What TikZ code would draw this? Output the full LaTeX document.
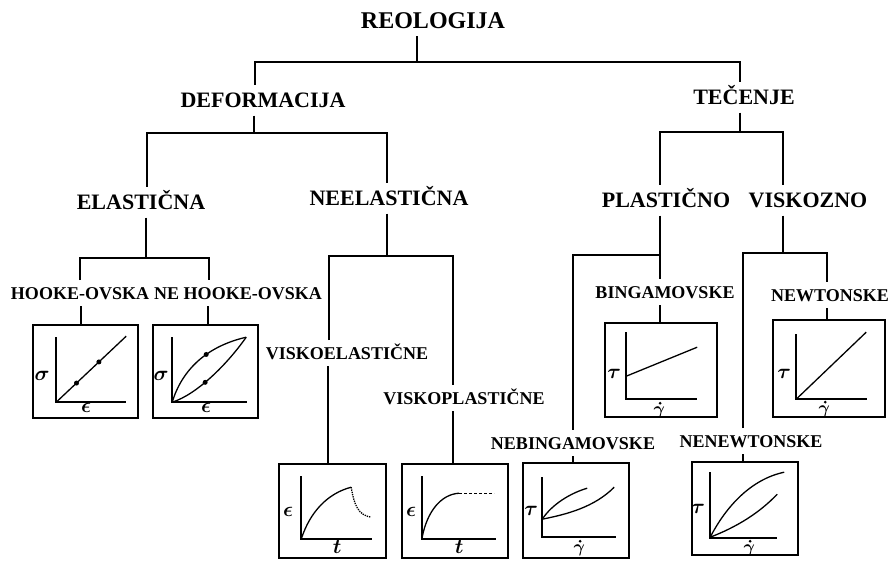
\documentclass[tikz,border=0pt]{standalone}
\usepackage{fontspec}
\setmainfont{Liberation Serif}
\tikzset{
  ln/.style={line width=1.6pt},
  ttl/.style={font=\fontsize{24}{24}\selectfont\bfseries,text height=16pt,text depth=0pt,inner sep=0pt,outer sep=8pt},
  lvl/.style={font=\fontsize{22}{22}\selectfont\bfseries,text height=15pt,text depth=0pt,inner sep=0pt,outer sep=8pt},
  sub/.style={font=\fontsize{18}{18}\selectfont\bfseries,text height=12pt,text depth=0pt,inner sep=0pt,outer sep=7pt},
  pbox/.style={draw,line width=1.6pt,minimum width=106pt,minimum height=94pt,inner sep=0pt},
  ax/.style={line width=1.5pt},
  crv/.style={line width=1.3pt},
  dot/.style={circle,fill,inner sep=0pt,minimum size=5pt},
  lab/.style={font=\fontsize{21}{21}\selectfont\boldmath,inner sep=0pt},
  dlab/.style={font=\fontsize{17}{17}\selectfont\boldmath,inner sep=0pt,anchor=north}
}
\begin{document}
\begin{tikzpicture}[x=1pt,y=-1pt]
\useasboundingbox (0,0) rectangle (892,563);
% labels
\node[ttl] (reo) at (433,20) {REOLOGIJA};
\node[lvl] (def) at (263,100) {DEFORMACIJA};
\node[lvl] (tec) at (744,97) {TEČENJE};
\node[lvl] (ela) at (141,202) {ELASTIČNA};
\node[lvl] (nee) at (389,198) {NEELASTIČNA};
\node[lvl] (pla) at (666,200) {PLASTIČNO};
\node[lvl] (vis) at (808,200) {VISKOZNO};
\node[sub] (hoo) at (80,293) {HOOKE-OVSKA};
\node[sub] (nho) at (238,293) {NE HOOKE-OVSKA};
\node[sub] (vel) at (347,353) {VISKOELASTIČNE};
\node[sub] (vpl) at (464,398) {VISKOPLASTIČNE};
\node[sub] (bin) at (665,292) {BINGAMOVSKE};
\node[sub] (nbi) at (573,443) {NEBINGAMOVSKE};
\node[sub] (new) at (830,295) {NEWTONSKE};
\node[sub] (nne) at (751,441) {NENEWTONSKE};
% graph frames
\node[pbox,minimum width=105pt,minimum height=93pt] (g1) at (85.5,371.5) {};
\node[pbox,minimum width=105pt,minimum height=93pt] (g2) at (205.5,371.5) {};
\node[pbox,minimum width=107pt] (g3) at (332.5,511) {};
\node[pbox] (g4) at (455,511) {};
\node[pbox,minimum height=95pt] (g5) at (576,510.5) {};
\node[pbox,minimum height=93pt] (g6) at (745,508.5) {};
\node[pbox,minimum width=112pt] (g7) at (661,370) {};
\node[pbox,minimum width=112pt,minimum height=97pt] (g8) at (829,368.5) {};
% tree
\coordinate (k0) at (417,62);
\draw[ln] (reo.south -| k0) -- (k0);
\draw[ln] (def.north -| 255,0) |- (k0) -| (tec.north -| 740,0);
\coordinate (k1) at (254,133);
\draw[ln] (def.south -| k1) -- (k1);
\draw[ln] (ela.north -| 147,0) |- (k1) -| (nee.north -| 387,0);
\coordinate (k2) at (740,132);
\draw[ln] (tec.south -| k2) -- (k2);
\draw[ln] (pla.north -| 660,0) |- (k2) -| (vis.north -| 783,0);
\coordinate (k3) at (146,258);
\draw[ln] (ela.south -| k3) -- (k3);
\draw[ln] (hoo.north -| 80,0) |- (k3) -| (nho.north -| 209,0);
\draw[ln] (hoo.south -| 81,0) -- (g1.north -| 81,0);
\draw[ln] (nho.south -| 208,0) -- (g2.north -| 208,0);
\coordinate (k4) at (387,256);
\draw[ln] (nee.south -| k4) -- (k4);
\draw[ln] (vel.north -| 329,0) |- (k4) -| (vpl.north -| 453,0);
\draw[ln] (vel.south -| 328,0) -- (g3.north -| 328,0);
\draw[ln] (vpl.south -| 453,0) -- (g4.north -| 453,0);
\coordinate (k5) at (660,255);
\draw[ln] (pla.south -| k5) -- (bin.north -| k5);
\draw[ln] (k5) -| (nbi.north -| 573,0);
\draw[ln] (bin.south -| 660,0) -- (g7.north -| 660,0);
\draw[ln] (nbi.south -| 573,0) -- (g5.north -| 573,0);
\coordinate (k6) at (783,253);
\draw[ln] (vis.south -| k6) -- (k6);
\draw[ln] (nne.north -| 743,0) |- (k6) -| (new.north -| 827,0);
\draw[ln] (new.south -| 827,0) -- (g8.north -| 827,0);
\draw[ln] (nne.south -| 743,0) -- (g6.north -| 743,0);
% graphs
\begin{scope}[shift={(g1.north west)}]
 \draw[ax] (24,13) |- (94,78);
 \draw[crv] (24,78) -- (94,12) node[dot,pos=.29]{} node[dot,pos=.61]{};
 \node[lab] at (10,52) {$\sigma$};
 \node[lab,anchor=north] at (54,79) {$\epsilon$};
\end{scope}
\begin{scope}[shift={(g2.north west)}]
 \draw[ax] (20,13) |- (95,78);
 \draw[crv] (20,78) .. controls (30,45) and (55,22) .. (94,13) node[dot,pos=.6]{};
 \draw[crv] (20,78) .. controls (45,70) and (75,40) .. (94,13) node[dot,pos=.42]{};
 \node[lab] at (9,52) {$\sigma$};
 \node[lab,anchor=north] at (54,79) {$\epsilon$};
\end{scope}
\begin{scope}[shift={(g3.north west)}]
 \draw[ax] (23,13) |- (94,76);
 \draw[crv] (23,76) .. controls (32,48) and (50,30) .. (73,24);
 \draw[crv,densely dotted] (73,24) .. controls (76,42) and (80,52) .. (93,54);
 \node[lab] at (10,49) {$\epsilon$};
 \node[lab,anchor=north] at (59,77) {$t$};
\end{scope}
\begin{scope}[shift={(g4.north west)}]
 \draw[ax] (21,13) |- (95,76);
 \draw[crv] (21,74) .. controls (26,48) and (40,31) .. (58,30);
 \draw[crv,densely dashed] (58,30) -- (93,30);
 \node[lab] at (10,49) {$\epsilon$};
 \node[lab,anchor=north] at (58,77) {$t$};
\end{scope}
\begin{scope}[shift={(g5.north west)}]
 \draw[ax] (20,15) |- (94,75);
 \draw[crv] (20,57) .. controls (30,42) and (48,31) .. (65,26);
 \draw[crv] (20,57) .. controls (45,52) and (72,45) .. (92,25);
 \node[lab] at (9,49) {$\tau$};
 \node[dlab] (gd5) at (57,82) {$\gamma$};
 \fill ([xshift=1pt,yshift=3pt]gd5.north) circle (1.5pt);
\end{scope}
\begin{scope}[shift={(g6.north west)}]
 \draw[ax] (19,11) |- (86,77);
 \draw[crv] (19,76) .. controls (35,45) and (60,18) .. (93,11);
 \draw[crv] (19,76) .. controls (45,66) and (68,52) .. (86,33);
 \node[lab] at (7,48) {$\tau$};
 \node[dlab] (gd6) at (58,83) {$\gamma$};
 \fill ([xshift=1pt,yshift=3pt]gd6.north) circle (1.5pt);
\end{scope}
\begin{scope}[shift={(g7.north west)}]
 \draw[ax] (22,10) |- (93,77);
 \draw[crv] (22,54) -- (93,25);
 \node[lab] at (10,52) {$\tau$};
 \node[dlab] (gd7) at (55,84) {$\gamma$};
 \fill ([xshift=1pt,yshift=3pt]gd7.north) circle (1.5pt);
\end{scope}
\begin{scope}[shift={(g8.north west)}]
 \draw[ax] (24,15) |- (95,80);
 \draw[crv] (24,80) -- (94,13);
 \node[lab] at (12,55) {$\tau$};
 \node[dlab] (gd8) at (52,86) {$\gamma$};
 \fill ([xshift=1pt,yshift=3pt]gd8.north) circle (1.5pt);
\end{scope}
\end{tikzpicture}
\end{document}
